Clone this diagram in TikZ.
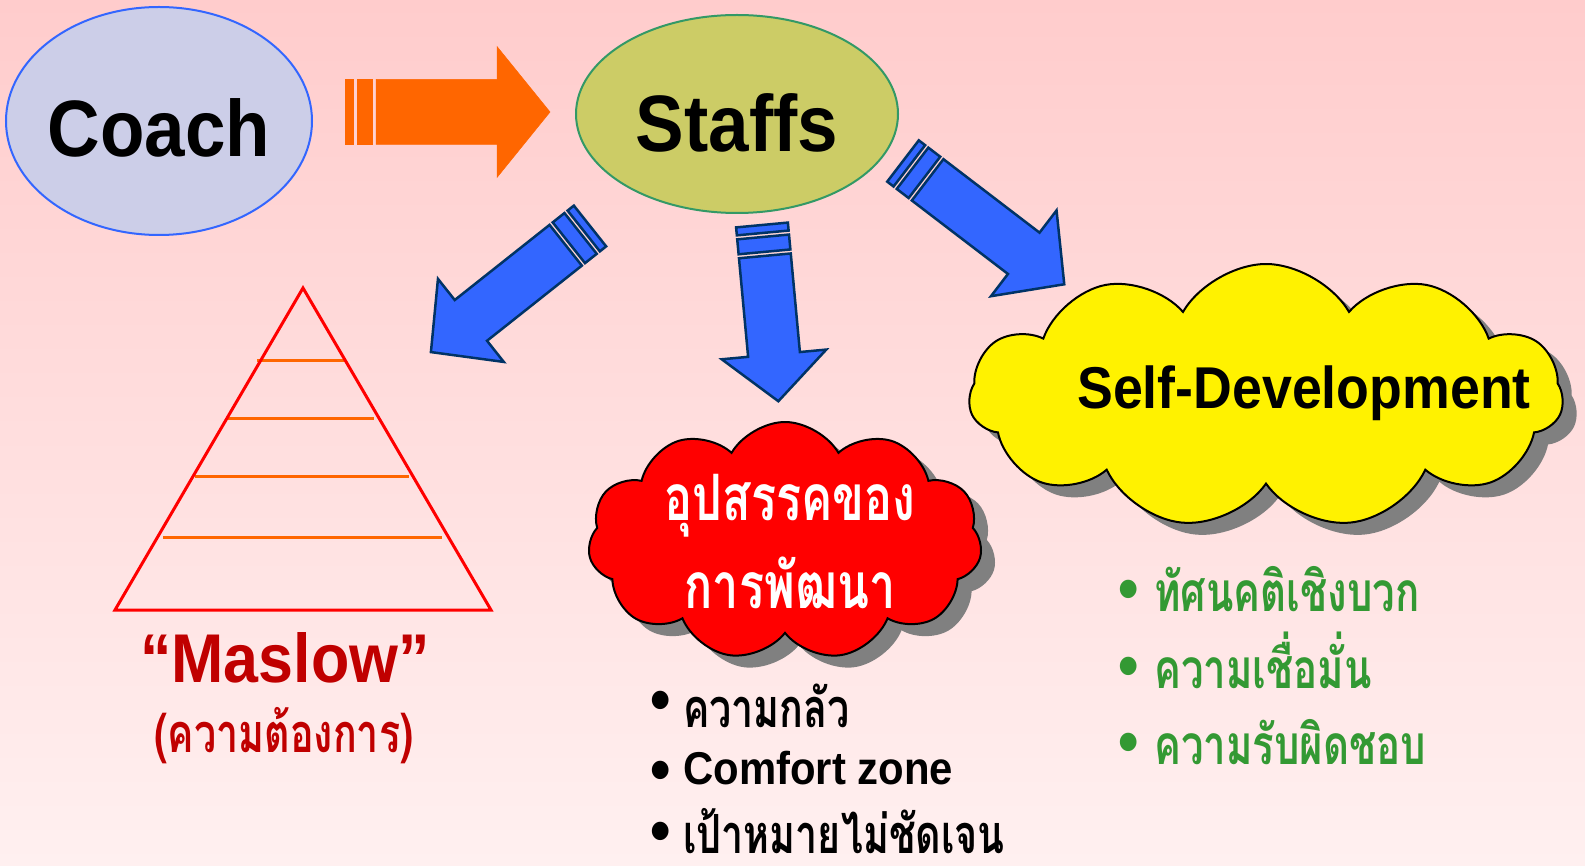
\documentclass[tikz,border=0pt]{standalone}
\usepackage{fontspec}
\setmainfont[FakeStretch=0.91]{Liberation Sans}
\newfontfamily\thaifont[Script=Thai, FakeStretch=0.73]{Loma}
\usetikzlibrary{positioning, shapes.geometric, shapes.symbols, shadows}

\definecolor{bgtop}{RGB}{255,204,204}
\definecolor{bgbottom}{RGB}{255,240,240}
\definecolor{coachfill}{RGB}{204,206,232}
\definecolor{coachline}{RGB}{51,102,255}
\definecolor{staffsfill}{RGB}{204,204,102}
\definecolor{staffsline}{RGB}{51,153,102}
\definecolor{arroworange}{RGB}{255,102,0}
\definecolor{arrowblue}{RGB}{51,102,255}
\definecolor{arrowline}{RGB}{0,51,102}
\definecolor{maslowred}{RGB}{192,0,0}
\definecolor{listgreen}{RGB}{51,153,51}

\newcommand{\fsize}[1]{\fontsize{#1}{#1}\selectfont}
% bullet: #1 raise, #2 width of the bullet box
\newcommand{\bul}[2]{\makebox[#2][l]{\raisebox{#1}{\rmfamily\bfseries\fsize{64}\textbullet}}}

\begin{document}
\begin{tikzpicture}[x=1pt, y=-1pt]
    % Styles
    \tikzset{
        bubble/.style={ellipse, line width=2pt, inner sep=0pt, font=\bfseries\fsize{80}},
        puff/.style={cloud, cloud puffs=11, cloud puff arc=120, draw=black, line width=2pt, inner sep=0pt,
            drop shadow={shadow xshift=14pt, shadow yshift=-12pt, opacity=1, fill=black!50}},
        bluearrow/.style={fill=arrowblue, draw=arrowline, line width=2.5pt},
        levelline/.style={draw=arroworange, line width=3pt},
        thaitext/.style={font=\thaifont\bfseries\fsize{54}, anchor=base, inner sep=0pt},
        item/.style={anchor=base west, inner sep=0pt},
        pics/striped/.style n args={4}{code={
            \path[pic actions] (0,-#2) rectangle (8,#2);
            \path[pic actions] (12,-#2) rectangle (27,#2);
            \path[pic actions] (31,-#2) -- ({#1-#4},-#2) -- ({#1-#4},-#3) -- (#1,0)
                -- ({#1-#4},#3) -- ({#1-#4},#2) -- (31,#2) -- cycle;
        }}
    }

    % Background
    \useasboundingbox (0,0) rectangle (1585,866);
    \shade[top color=bgtop, bottom color=bgbottom] (0,0) rectangle (1585,866);

    % --- Nodes ---
    \node[bubble, fill=coachfill, draw=coachline, minimum width=306pt, minimum height=228pt, inner xsep=-8pt, text height=72pt] (coach) at (159,121) {Coach};
    \node[bubble, fill=staffsfill, draw=staffsline, minimum width=322pt, minimum height=198pt, text height=76pt] (staffs) at (737,114) {Staffs};

    % Clouds
    \node[puff, fill=red, minimum width=394pt, minimum height=238pt] (obstacle) at (785,541) {};
    \node[thaitext, text=white, font=\thaifont\bfseries\fsize{64}] (obstacleone) at (790,520) {อุปสรรคของ};
    \node[thaitext, text=white, font=\thaifont\bfseries\fsize{64}] (obstacletwo) at (790,608) {การพัฒนา};

    \node[puff, fill=yellow, minimum width=594pt, minimum height=264pt] (selfdev) at (1266,396) {};
    \node[font=\bfseries\fsize{59}, anchor=base, inner sep=0pt] (selfdevtext) at (1304,409) {Self-Development};

    % Pyramid
    \coordinate (apex) at (303,288);
    \coordinate (baseleft) at (115,610);
    \coordinate (baseright) at (491,610);
    \foreach \y/\l/\r in {361/257/346, 419/226/374, 476/195/409, 537/163/442}
        \draw[levelline] (\l,\y) -- (\r,\y);
    \draw[red, line width=3pt] (apex) -- (baseleft) -- (baseright) -- cycle;

    \node[font=\bfseries\fsize{69}, text=maslowred, anchor=base, inner sep=0pt] (maslow) at (285,682) {“Maslow”};
    \node[thaitext, text=maslowred] (needs) at (284,752) {(ความต้องการ)};

    % --- Arrows ---
    \pic[fill=arroworange, draw=arroworange, line width=0.5pt] (tostaffs) at (345,112) {striped={205}{32.5}{65.5}{53}};
    \pic[bluearrow, rotate=-141.6] (tomaslow) at (590,226) {striped={203}{26}{53}{51}};
    \pic[bluearrow, rotate=-84.7] (toobstacle) at (762,225) {striped={177}{26}{52.5}{47}};
    \pic[bluearrow, rotate=-37.4] (toselfdev) at (903,161) {striped={203}{26}{54}{51}};

    % --- Lists ---
    \node[item, font=\thaifont\bfseries\fsize{54}] (fear) at (650,727) {\bul{6pt}{33pt}ความกลัว};
    \node[item, font=\bfseries\fsize{46}] (comfort) at (650,784) {\bul{-7pt}{33pt}Comfort zone};
    \node[item, font=\thaifont\bfseries\fsize{54}] (goal) at (650,853) {\bul{1pt}{33pt}เป้าหมายไม่ชัดเจน};

    \node[item, font=\thaifont\bfseries\fsize{55}, text=listgreen] (attitude) at (1118,611) {\bul{1pt}{36pt}ทัศนคติเชิงบวก};
    \node[item, font=\thaifont\bfseries\fsize{55}, text=listgreen] (confidence) at (1118,688) {\bul{1pt}{36pt}ความเชื่อมั่น};
    \node[item, font=\thaifont\bfseries\fsize{55}, text=listgreen] (duty) at (1118,764) {\bul{1pt}{36pt}ความรับผิดชอบ};
\end{tikzpicture}
\end{document}
